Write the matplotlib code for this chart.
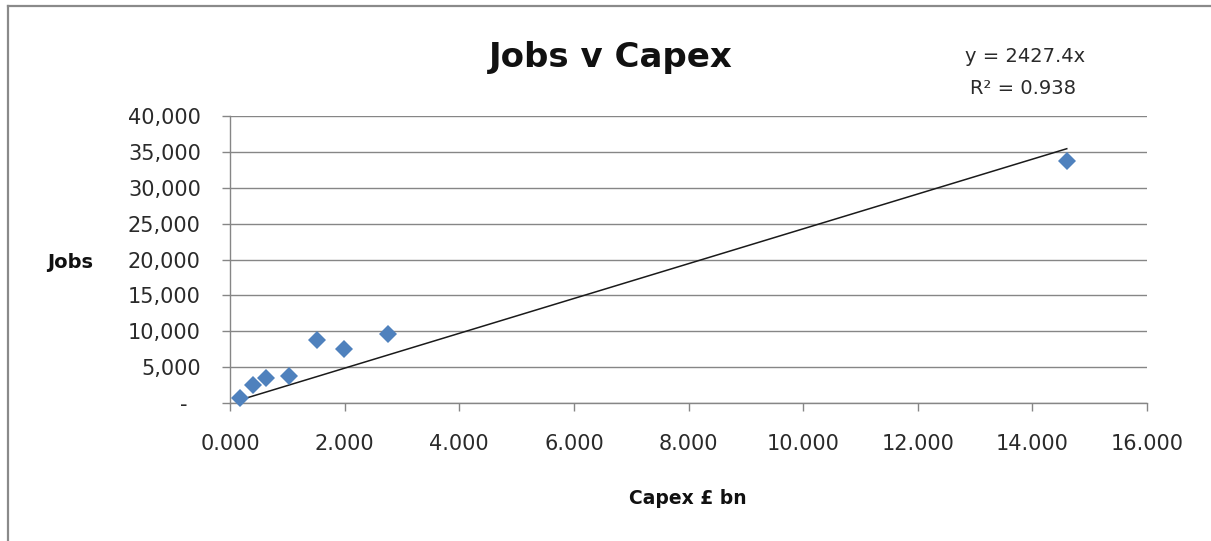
import matplotlib
matplotlib.use("Agg")
import matplotlib.pyplot as plt
from matplotlib.ticker import FuncFormatter, MultipleLocator
from matplotlib.lines import Line2D

# Capital expenditure (GBP bn) and associated jobs per project
capex = [0.17, 0.40, 0.62, 1.03, 1.51, 1.99, 2.75, 14.60]
jobs = [700, 2500, 3530, 3760, 8780, 7530, 9570, 33730]

# Linear trend through the origin
slope = 2427.4
r_squared = 0.938

title = "Jobs v Capex"
x_label = "Capex £ bn"
y_label = "Jobs"

W, H = 1211, 541
fig = plt.figure(figsize=(W / 100, H / 100), dpi=100)
plt.rcParams["font.family"] = ["DejaVu Sans"]

ax = fig.add_axes([230 / W, 1 - 403 / H, (1147 - 230) / W, (403 - 116) / H])

grid_col = "#868686"
ax.set_xlim(0, 16)
ax.set_ylim(0, 40000)
ax.xaxis.set_major_locator(MultipleLocator(2))
ax.yaxis.set_major_locator(MultipleLocator(5000))
ax.xaxis.set_major_formatter(FuncFormatter(lambda v, p: f"{v:.3f}"))
ax.yaxis.set_major_formatter(FuncFormatter(lambda v, p: "-  " if v == 0 else f"{v:,.0f}"))

ax.grid(axis="y", color=grid_col, linewidth=1.0)
ax.set_axisbelow(True)
for side in ("top", "right"):
    ax.spines[side].set_visible(False)
for side in ("left", "bottom"):
    ax.spines[side].set_color(grid_col)
    ax.spines[side].set_linewidth(1.0)

ax.tick_params(axis="y", direction="out", length=6, width=1.0, color=grid_col,
               pad=15, labelsize=15, labelcolor="#2a2a2a")
ax.tick_params(axis="x", direction="out", length=5.5, width=1.0, color=grid_col,
               pad=17, labelsize=15, labelcolor="#2a2a2a")

# Trend line over the data range
x0, x1 = min(capex), max(capex)
ax.plot([x0, x1], [slope * x0, slope * x1], color="#1a1a1a", linewidth=1.1, zorder=3)

ax.plot(capex, jobs, linestyle="none", marker="D", markersize=8.7,
        markerfacecolor="#4F81BD", markeredgewidth=0, zorder=4, clip_on=False)

fig.text(611 / W, 1 - 58 / H, title, ha="center", va="center",
         fontsize=24.5, fontweight="bold", color="#111111")
fig.text(1025 / W, 1 - 57 / H, f"y = {slope}x", ha="center", va="center",
         fontsize=14, color="#2a2a2a")
fig.text(1023 / W, 1 - 88 / H, f"R² = {r_squared}", ha="center", va="center",
         fontsize=14, color="#2a2a2a")
fig.text(70 / W, 1 - 262 / H, y_label, ha="center", va="center",
         fontsize=14, fontweight="bold", color="#111111")
fig.text(688 / W, 1 - 498 / H, x_label, ha="center", va="center",
         fontsize=13.5, fontweight="bold", color="#111111")

# Frame around the chart (top and left edges)
border = "#8a8a8a"
fig.add_artist(Line2D([8 / W, 1.0], [1 - 6 / H, 1 - 6 / H], color=border,
                      linewidth=1.6, transform=fig.transFigure))
fig.add_artist(Line2D([8 / W, 8 / W], [0.0, 1 - 6 / H], color=border,
                      linewidth=1.6, transform=fig.transFigure))

fig.savefig("out.png", dpi=100)
